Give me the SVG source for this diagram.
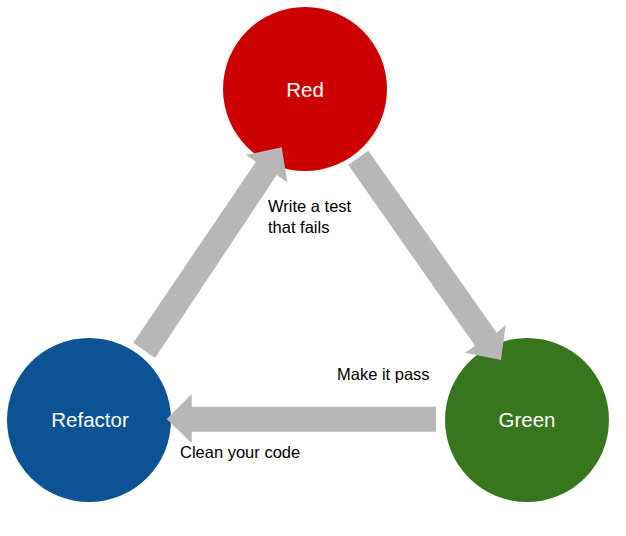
<svg xmlns="http://www.w3.org/2000/svg" width="626" height="536" viewBox="0 0 626 536">
<style>
.node-label{font-family:"Liberation Sans",Arial,sans-serif;font-size:20.5px;fill:#ffffff;text-anchor:middle}
.label{font-family:"Liberation Sans",Arial,sans-serif;font-size:16.5px;fill:#000000}
.arrow{fill:#b7b7b7;stroke:none}
</style>
<rect width="626" height="536" fill="#ffffff"/>
<g id="node-red">
<circle cx="305" cy="89" r="82" fill="#cc0000"/>
<text class="node-label" x="305" y="97">Red</text>
</g>
<g id="node-green">
<circle cx="527" cy="420" r="82" fill="#38761d"/>
<text class="node-label" x="527" y="427">Green</text>
</g>
<g id="node-refactor">
<circle cx="89" cy="420" r="82" fill="#0b5394"/>
<text class="node-label" x="90" y="427">Refactor</text>
</g>
<g id="connectors">
<polygon class="arrow" points="133.3,342.7 256,161.7 246,155 281.7,147.3 287.3,182.3 276.7,175 155,358"/>
<polygon class="arrow" points="368.3,150.7 496.7,332.7 505.7,325 501,360 465,352.7 475,345.7 348.3,165"/>
<polygon class="arrow" points="436,406.7 191.7,406.7 191.7,394 166.7,419 191.7,443.3 191.7,431.7 436,431.7"/>
</g>
<g id="labels">
<text class="label" x="268" y="212">Write a test</text>
<text class="label" x="268" y="233">that fails</text>
<text class="label" x="337" y="380">Make it pass</text>
<text class="label" x="180" y="458">Clean your code</text>
</g>
</svg>
